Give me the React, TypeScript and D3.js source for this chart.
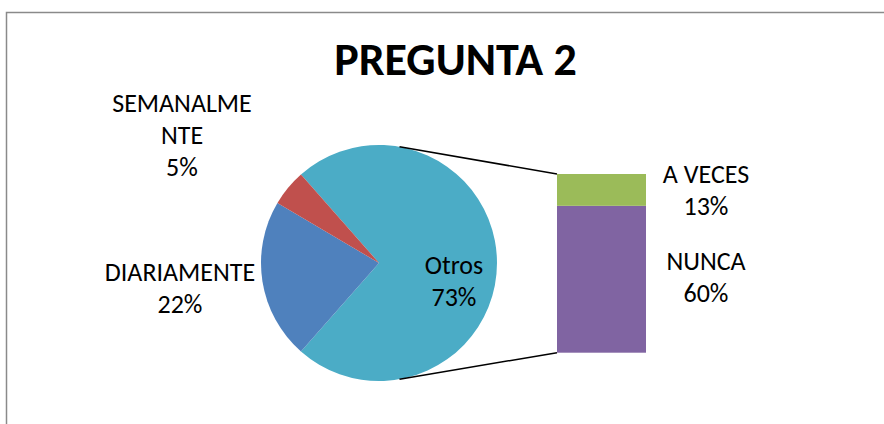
import React from "react";
import * as d3 from "d3";

const title = "PREGUNTA 2";
const pieCategories = ["Otros", "DIARIAMENTE", "SEMANALMENTE"];
const pieValues = [73, 22, 5];
const pieLabelLines = [["Otros", "73%"], ["DIARIAMENTE", "22%"], ["SEMANALME", "NTE", "5%"]];
const pieColors = ["#4BACC6", "#4F81BD", "#C0504D"];
const barCategories = ["NUNCA", "A VECES"];
const barValues = [60, 13];
const barLabelLines = [["NUNCA", "60%"], ["A VECES", "13%"]];
const barColors = ["#8064A2", "#9BBB59"];

const W = 884;
const H = 424;
const FONT = "Carlito, Calibri, Lato, 'DejaVu Sans', sans-serif";

export default function App() {
  const cx = 379, cy = 263, r = 118;
  const otrosFrac = pieValues[0] / d3.sum(pieValues);
  const start = Math.PI / 2 - Math.PI * otrosFrac;
  const pie = d3.pie<number>().sort(null).startAngle(start).endAngle(start + 2 * Math.PI);
  const arcs = pie(pieValues);
  const arcGen = d3.arc<d3.PieArcDatum<number>>().innerRadius(0).outerRadius(r);

  const barX0 = 557, barX1 = 646;
  const barTotal = d3.sum(barValues);
  const y = d3.scaleLinear().domain([0, barTotal]).range([352.7, 174]);
  let acc = 0;
  const bars = barValues.map((v, i) => {
    const b = { y0: acc, y1: acc + v, i };
    acc += v;
    return b;
  });

  // connector points on the pie edge
  const ca = (80 * Math.PI) / 180;
  const pTop = [cx + r * Math.cos(-ca), cy + r * Math.sin(-ca)];
  const pBot = [cx + r * Math.cos(ca), cy + r * Math.sin(ca)];

  const fs = 26;
  const lh = 32;
  const labelPos: Record<string, { x: number; y: number }> = {
    Otros: { x: 454, y: 274 },
    DIARIAMENTE: { x: 180, y: 281 },
    SEMANALMENTE: { x: 182, y: 112 },
    NUNCA: { x: 706, y: 270 },
    "A VECES": { x: 706, y: 183 },
  };

  return (
    <svg width={W} height={H} style={{ position: "absolute", left: 0, top: 0, background: "#fff" }} fontFamily={FONT}>
      <rect x={6.5} y={12.5} width={W + 100} height={H + 100} fill="#fff" stroke="#8a8a8a" strokeWidth={1.5} />
      <text x={455.5} y={75} textAnchor="middle" fontSize={46} fontWeight="bold" fill="#000">{title}</text>
      {arcs.map((a, i) => (
        <path key={pieCategories[i]} d={arcGen(a) || ""} transform={`translate(${cx},${cy})`} fill={pieColors[i]} />
      ))}
      <line x1={pTop[0]} y1={pTop[1]} x2={barX0} y2={y(barTotal)} stroke="#000" strokeWidth={1.5} />
      <line x1={pBot[0]} y1={pBot[1]} x2={barX0} y2={y(0)} stroke="#000" strokeWidth={1.5} />
      {bars.map((b) => (
        <rect key={barCategories[b.i]} x={barX0} width={barX1 - barX0} y={y(b.y1)} height={y(b.y0) - y(b.y1)} fill={barColors[b.i]} />
      ))}
      {pieCategories.map((c, i) => (
        <text key={c} textAnchor="middle" fontSize={fs} fill="#000">
          {pieLabelLines[i].map((l, j) => (
            <tspan key={j} x={labelPos[c].x} y={labelPos[c].y + j * lh}>{l}</tspan>
          ))}
        </text>
      ))}
      {barCategories.map((c, i) => (
        <text key={c} textAnchor="middle" fontSize={fs} fill="#000">
          {barLabelLines[i].map((l, j) => (
            <tspan key={j} x={labelPos[c].x} y={labelPos[c].y + j * lh}>{l}</tspan>
          ))}
        </text>
      ))}
    </svg>
  );
}
